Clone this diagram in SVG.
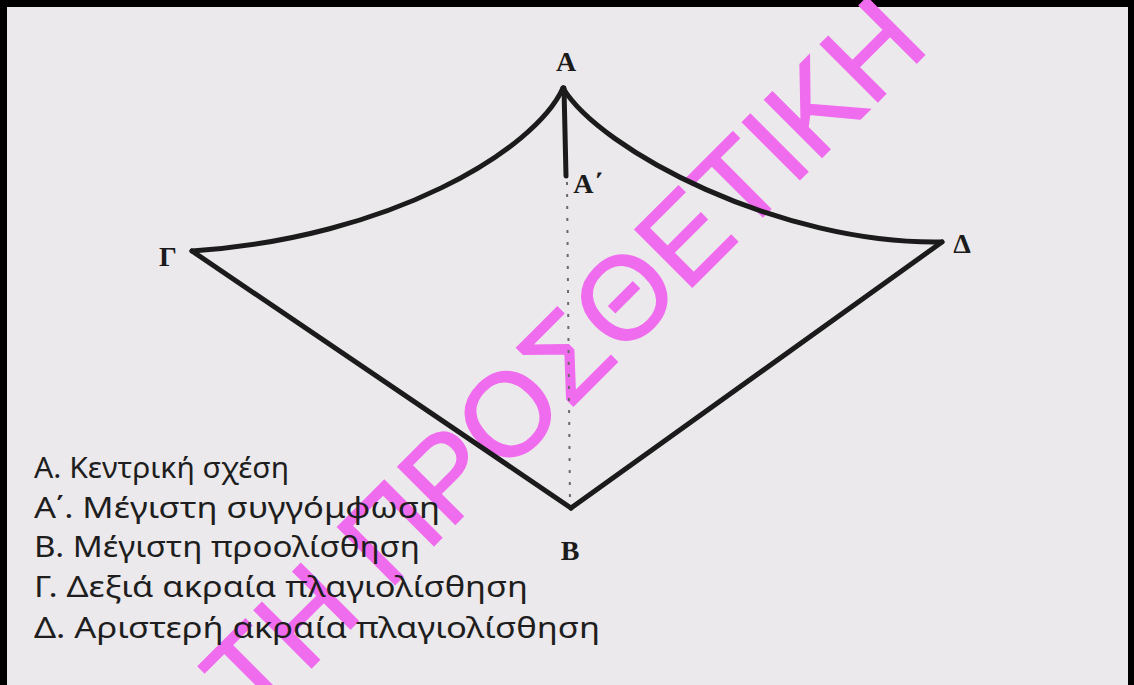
<svg xmlns="http://www.w3.org/2000/svg" width="1134" height="685" viewBox="0 0 1134 685">
  <defs>
    <style>
      .edge { fill: none; stroke: #1b1b1b; stroke-width: 5; stroke-linecap: round; stroke-linejoin: round; }
      .dots { fill: none; stroke: #6a6a6a; stroke-width: 2; stroke-dasharray: 3 9; }
      .lbl { font-family: "Liberation Serif", "DejaVu Serif", serif; font-size: 28px; fill: #1b1b1b; font-weight: bold; }
      .leg { font-family: "Noto Sans", "Open Sans", "DejaVu Sans", sans-serif; font-size: 29px; fill: #1e1e1e; }
      .wm { font-family: "Liberation Sans", Arial, sans-serif; font-size: 118px; fill: #f06cee; stroke: #f06cee; stroke-width: 1.5; }
    </style>
  </defs>
  <rect x="0" y="0" width="1134" height="685" fill="#000"/>
  <rect x="7" y="7" width="1121" height="678" fill="#ece9ec"/>

  <g id="watermark" transform="translate(507,413) rotate(-45)">
    <text class="wm" x="-400" y="42">ΤΗ ΠΡΟΣΘΕΤΙΚΗ</text>
  </g>

  <g id="connectors">
    <path class="edge" d="M563,88 C535,150 390,238 192,251"/>
    <path class="edge" d="M563,88 C600,150 780,245 942,242"/>
    <path class="edge" d="M192,251 L571,508"/>
    <path class="edge" d="M942,242 L571,508"/>
    <path class="edge" d="M564,88 L566,176"/>
    <path class="dots" d="M567,182 L570,505"/>
  </g>

  <g id="node-A"><text class="lbl" x="566" y="71" text-anchor="middle">Α</text></g>
  <g id="node-A1"><text class="lbl" x="588" y="193" text-anchor="middle" font-size="24">Α΄</text></g>
  <g id="node-G"><text class="lbl" x="168" y="266" text-anchor="middle">Γ</text></g>
  <g id="node-D"><text class="lbl" x="962" y="253" text-anchor="middle" font-size="24">Δ</text></g>
  <g id="node-B"><text class="lbl" x="570" y="560" text-anchor="middle" font-size="34">Β</text></g>

  <g id="legend">
    <text class="leg" x="34" y="478" textLength="255" lengthAdjust="spacingAndGlyphs">Α. Κεντρική σχέση</text>
    <text class="leg" x="34" y="518" textLength="406" lengthAdjust="spacingAndGlyphs">Α΄. Μέγιστη συγγόμφωση</text>
    <text class="leg" x="34" y="557" textLength="386" lengthAdjust="spacingAndGlyphs">Β. Μέγιστη προολίσθηση</text>
    <text class="leg" x="34" y="597" textLength="494" lengthAdjust="spacingAndGlyphs">Γ. Δεξιά ακραία πλαγιολίσθηση</text>
    <text class="leg" x="34" y="638" textLength="566" lengthAdjust="spacingAndGlyphs">Δ. Αριστερή ακραία πλαγιολίσθηση</text>
  </g>
</svg>
